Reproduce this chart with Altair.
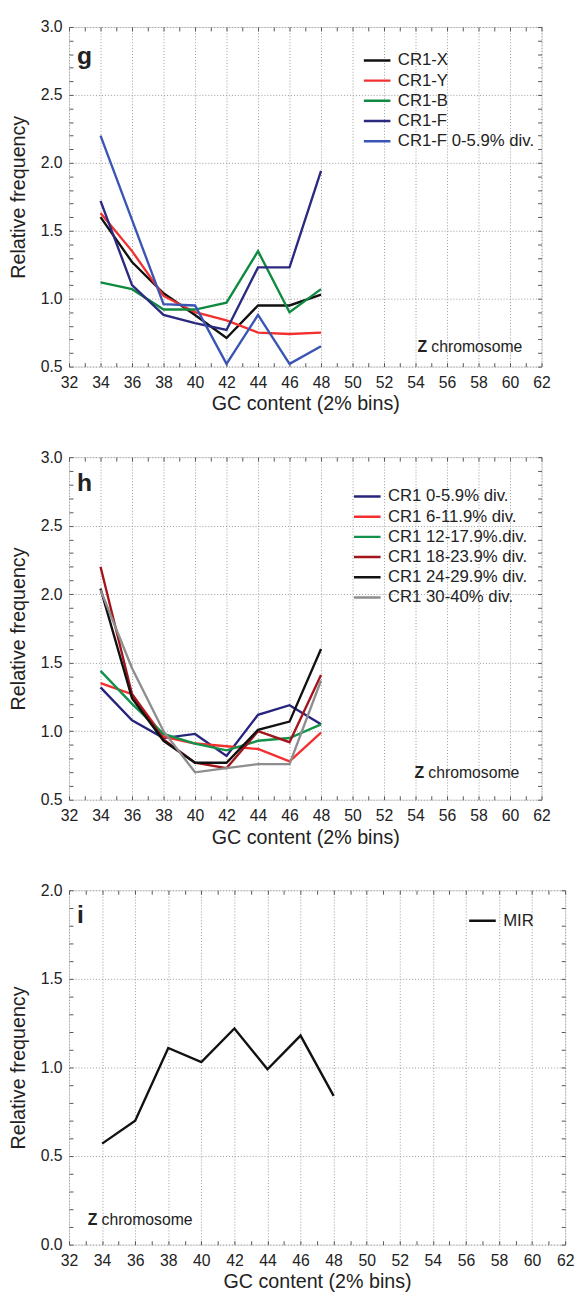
import altair as alt
import pandas as pd

FONT = "Liberation Sans"

# ---------------- data ----------------
gc = [34, 36, 38, 40, 42, 44, 46, 48]

# panel g
g_names = ["CR1-X", "CR1-Y", "CR1-B", "CR1-F", "CR1-F 0-5.9% div."]
g_colors = ["#111111", "#f23030", "#108a40", "#2c2a80", "#3a55b4"]
g_cr1_x = [1.60, 1.27, 1.04, 0.88, 0.71, 0.95, 0.95, 1.03]
g_cr1_y = [1.63, 1.35, 1.02, 0.90, 0.84, 0.75, 0.74, 0.75]
g_cr1_b = [1.12, 1.07, 0.92, 0.92, 0.97, 1.35, 0.90, 1.07]
g_cr1_f = [1.72, 1.10, 0.88, 0.82, 0.77, 1.23, 1.23, 1.94]
g_cr1_f_div = [2.20, 1.58, 0.96, 0.95, 0.52, 0.88, 0.52, 0.65]
g_values = [g_cr1_x, g_cr1_y, g_cr1_b, g_cr1_f, g_cr1_f_div]

# panel h
h_names = ["CR1 0-5.9% div.", "CR1 6-11.9% div.", "CR1 12-17.9%.div.",
           "CR1 18-23.9% div.", "CR1 24-29.9% div.", "CR1 30-40% div."]
h_colors = ["#28247e", "#f23030", "#12924a", "#a3151b", "#111111", "#8e8e8e"]
h_d0 = [1.32, 1.08, 0.95, 0.98, 0.82, 1.12, 1.19, 1.05]
h_d6 = [1.35, 1.27, 0.96, 0.91, 0.89, 0.87, 0.78, 0.99]
h_d12 = [1.44, 1.20, 0.98, 0.91, 0.86, 0.93, 0.95, 1.05]
h_d18 = [2.20, 1.27, 0.94, 0.77, 0.73, 1.00, 0.92, 1.41]
h_d24 = [2.04, 1.24, 0.93, 0.77, 0.77, 1.01, 1.07, 1.60]
h_d30 = [2.03, 1.46, 1.00, 0.70, 0.73, 0.76, 0.76, 1.37]
h_values = [h_d0, h_d6, h_d12, h_d18, h_d24, h_d30]

# panel i
i_names = ["MIR"]
i_colors = ["#111111"]
i_mir = [0.57, 0.70, 1.11, 1.03, 1.22, 0.99, 1.18, 0.84]
i_values = [i_mir]

x_major = list(range(32, 63, 2))
x_minor = list(range(32, 63, 1))
y_major_gh = [0.5, 1.0, 1.5, 2.0, 2.5, 3.0]
y_major_i = [0.0, 0.5, 1.0, 1.5, 2.0]


def long_df(names, values):
    rows = []
    for n, vals in zip(names, values):
        for x, v in zip(gc, vals):
            rows.append({"gc": x, "val": v, "series": n})
    return pd.DataFrame(rows)


def panel(names, values, colors, W, H, ydom, ymajor, letter, letter_base,
          legend_x, legend_y, z_x, z_base):
    df = long_df(names, values)
    xs = alt.Scale(domain=[32, 62], nice=False, zero=False)
    ys = alt.Scale(domain=ydom, nice=False, zero=False)
    nminor = int(round((ydom[1] - ydom[0]) / 0.1))
    y_minor = [round(ydom[0] + 0.1 * k, 1) for k in range(nminor + 1)]

    lines = alt.Chart(df).mark_line(strokeWidth=2.4, clip=True).encode(
        x=alt.X("gc:Q", scale=xs, axis=alt.Axis(
            values=x_major, title="GC content (2% bins)", grid=True,
            gridDash=[1, 2], gridColor="#9a9a9a", gridWidth=1,
            ticks=False, domain=False, labelFlush=False, labelOverlap=False,
            labelFontSize=16, labelPadding=8, titleFontSize=20,
            titleFontWeight="normal", titlePadding=4, labelFont=FONT,
            titleFont=FONT, labelColor="#222", titleColor="#222")),
        y=alt.Y("val:Q", scale=ys, axis=alt.Axis(
            values=ymajor, format=".1f", title="Relative frequency", grid=True,
            gridDash=[1, 2], gridColor="#9a9a9a", gridWidth=1,
            ticks=False, domain=False, labelFlush=False, labelOverlap=False,
            labelFontSize=16, labelPadding=7, titleFontSize=20,
            titleFontWeight="normal", titlePadding=12, labelFont=FONT,
            titleFont=FONT, labelColor="#222", titleColor="#222")),
        color=alt.Color("series:N", scale=alt.Scale(domain=names, range=colors),
                        legend=alt.Legend(
                            orient="none", legendX=legend_x, legendY=legend_y,
                            title=None, symbolType="stroke", symbolSize=729,
                            symbolStrokeWidth=2.5, labelFontSize=17,
                            labelFont=FONT, labelColor="#222", rowPadding=2.5,
                            clipHeight=17, padding=0, labelOffset=6)),
        order="gc:Q",
    )

    tick_style = dict(labels=False, title=None, domain=False, grid=False,
                      ticks=True, tickSize=4, tickColor="#555", tickWidth=1)
    ticks_a = alt.Chart(df).mark_point(opacity=0).encode(
        x=alt.X("gc:Q", scale=xs, axis=alt.Axis(orient="bottom", offset=-H,
                                                values=x_minor, **tick_style)),
        y=alt.Y("val:Q", scale=ys, axis=alt.Axis(orient="right", offset=-W,
                                                 values=y_minor, **tick_style)),
    )
    ticks_b = alt.Chart(df).mark_point(opacity=0).encode(
        x=alt.X("gc:Q", scale=xs, axis=alt.Axis(orient="top", offset=-H,
                                                values=x_minor, **tick_style)),
        y=alt.Y("val:Q", scale=ys, axis=alt.Axis(orient="left", offset=-W,
                                                 values=y_minor, **tick_style)),
    )

    letter_t = alt.Chart(pd.DataFrame({"t": [letter]})).mark_text(
        font=FONT, fontSize=25, fontWeight="bold", align="left",
        baseline="alphabetic", color="#222").encode(
        text="t:N", x=alt.value(8), y=alt.value(letter_base))
    z_t = alt.Chart(pd.DataFrame({"t": ["Z"]})).mark_text(
        font=FONT, fontSize=16, fontWeight="bold", align="left",
        baseline="alphabetic", color="#222").encode(
        text="t:N", x=alt.value(z_x), y=alt.value(z_base))
    chrom_t = alt.Chart(pd.DataFrame({"t": ["chromosome"]})).mark_text(
        font=FONT, fontSize=16, align="left",
        baseline="alphabetic", color="#222").encode(
        text="t:N", x=alt.value(z_x + 14), y=alt.value(z_base))

    return alt.layer(lines, ticks_a, ticks_b, letter_t, z_t, chrom_t).resolve_axis(
        x="independent", y="independent").properties(width=W, height=H)


pg = panel(g_names, g_values, g_colors, 480, 345, [0.5, 3.0], y_major_gh,
           "g", 38, 298, 25.5, 354, 330)
ph = panel(h_names, h_values, h_colors, 480, 348, [0.5, 3.0], y_major_gh,
           "h", 34, 288, 31.5, 351, 326)
pi = panel(i_names, i_values, i_colors, 504, 360, [0.0, 2.0], y_major_i,
           "i", 33, 405, 22.5, 19, 340)

chart = alt.vconcat(pg, ph, pi, spacing=34).resolve_scale(
    color="independent").properties(
    padding={"left": 0, "top": 0, "right": 0, "bottom": 0}).configure_view(
    stroke="#666666", strokeWidth=1.5).configure(background="white")

chart.save("out.html", embed_options={"renderer": "svg", "actions": False})
